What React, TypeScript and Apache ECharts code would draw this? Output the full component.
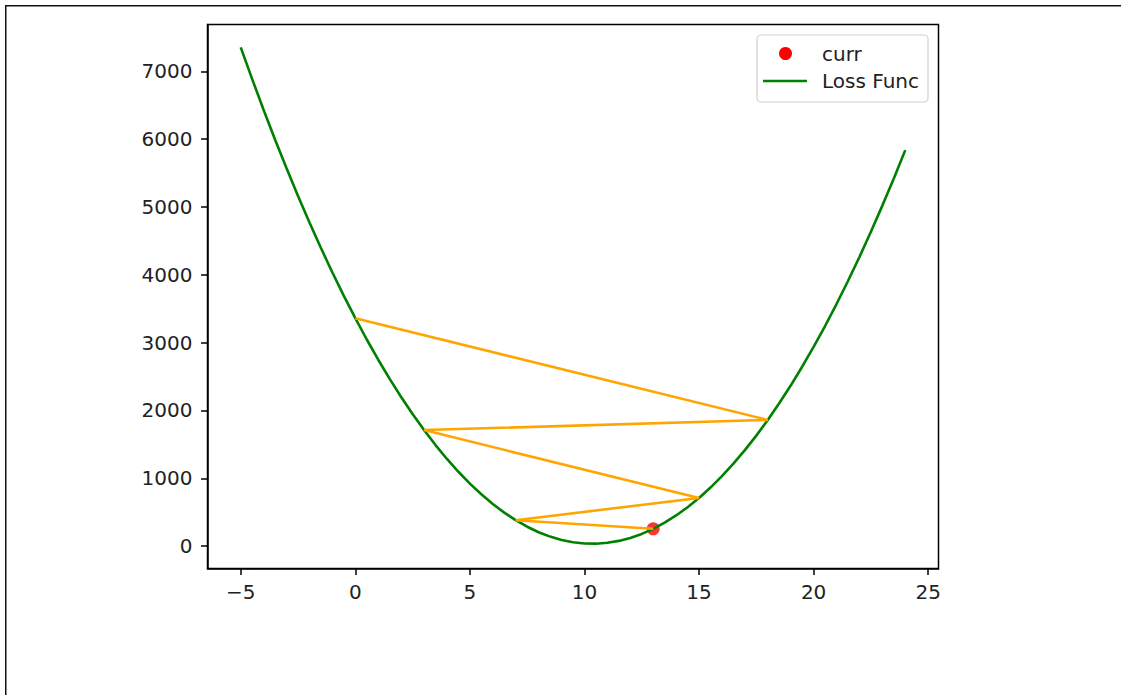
import React, { useEffect, useRef } from "react";
import * as echarts from "echarts";

// Loss function samples, x step 0.5
const lossX = [
  -5, -4.5, -4, -3.5, -3, -2.5, -2, -1.5, -1, -0.5, 0, 0.5, 1, 1.5, 2, 2.5, 3, 3.5, 4, 4.5,
  5, 5.5, 6, 6.5, 7, 7.5, 8, 8.5, 9, 9.5, 10, 10.5, 11, 11.5, 12, 12.5, 13, 13.5, 14, 14.5,
  15, 15.5, 16, 16.5, 17, 17.5, 18, 18.5, 19, 19.5, 20, 20.5, 21, 21.5, 22, 22.5, 23, 23.5, 24,
];
const lossY = [
  7353, 6884, 6430, 5992, 5570, 5162, 4771, 4395, 4034, 3690, 3360, 3046, 2748, 2465, 2198, 1947, 1711, 1490, 1285, 1096,
  922, 764, 621, 494, 382, 286, 205, 140, 91, 57, 39, 36, 49, 77, 121, 180, 255, 346, 452, 573,
  710, 863, 1031, 1215, 1415, 1629, 1860, 2106, 2367, 2645, 2937, 3245, 3569, 3909, 4263, 4634, 5020, 5421, 5838,
];

// Gradient-descent path (orange)
const pathX = [0, 18, 3, 15, 7, 13];
const pathY = [3360, 1860, 1711, 710, 382, 255];

// Current point (red)
const currX = [13];
const currY = [255];

const xTicks = [-5, 0, 5, 10, 15, 20, 25];
const yTicks = [0, 1000, 2000, 3000, 4000, 5000, 6000, 7000];

const FONT = "DejaVu Sans";
const FS = 20;

export default function App() {
  const ref = useRef<HTMLDivElement>(null);
  useEffect(() => {
    if (!ref.current) return;
    const chart = echarts.init(ref.current, undefined, { renderer: "svg" });
    const fmt = (v: number) => (v < 0 ? "\u2212" + Math.abs(v) : String(v));
    chart.setOption({
      animation: false,
      backgroundColor: "#ffffff",
      grid: {
        left: 207.5,
        top: 24.5,
        width: 731,
        height: 544,
        show: true,
        borderColor: "#000",
        borderWidth: 1.5,
        backgroundColor: "transparent",
      },
      xAxis: {
        type: "value",
        min: -6.45,
        max: 25.45,
        splitLine: { show: false },
        axisLine: { show: true, onZero: false, lineStyle: { color: "#000", width: 1.5 } },
        axisTick: { show: true, customValues: xTicks, length: 6.5, lineStyle: { color: "#000", width: 1.5 } },
        axisLabel: {
          customValues: xTicks,
          formatter: fmt,
          margin: 13,
          color: "#222",
          fontFamily: FONT,
          fontSize: FS,
        },
      },
      yAxis: {
        type: "value",
        min: -330,
        max: 7690,
        splitLine: { show: false },
        axisLine: { show: true, onZero: false, lineStyle: { color: "#000", width: 1.5 } },
        axisTick: { show: true, customValues: yTicks, length: 6.5, lineStyle: { color: "#000", width: 1.5 } },
        axisLabel: {
          customValues: yTicks,
          formatter: fmt,
          margin: 15,
          color: "#222",
          fontFamily: FONT,
          fontSize: FS,
        },
      },
      series: [
        {
          name: "Loss Func",
          type: "line",
          data: lossX.map((x, i) => [x, lossY[i]]),
          showSymbol: false,
          symbol: "none",
          lineStyle: { color: "green", width: 2.6 },
          itemStyle: { color: "green" },
        },
        {
          name: "path",
          type: "line",
          data: pathX.map((x, i) => [x, pathY[i]]),
          showSymbol: false,
          symbol: "none",
          lineStyle: { color: "orange", width: 2.6 },
          itemStyle: { color: "orange" },
        },
        {
          name: "curr",
          type: "scatter",
          data: currX.map((x, i) => [x, currY[i]]),
          symbolSize: 13,
          itemStyle: { color: "red" },
        },
      ],
      graphic: [
        {
          type: "rect",
          shape: { x: 5.75, y: 5.75, width: 1300, height: 900 },
          style: { fill: "none", stroke: "#111", lineWidth: 1.5 },
          silent: true,
          z: 0,
        },
        {
          type: "rect",
          shape: { x: 757, y: 35, width: 171, height: 67, r: 4 },
          style: { fill: "rgba(255,255,255,0.8)", stroke: "#d0d0d0", lineWidth: 1.2 },
          z: 10,
        },
        {
          type: "circle",
          shape: { cx: 785.5, cy: 53.5, r: 6.5 },
          style: { fill: "red" },
          z: 11,
        },
        {
          type: "line",
          shape: { x1: 763, y1: 81, x2: 807, y2: 81 },
          style: { stroke: "green", lineWidth: 2.6 },
          z: 11,
        },
        {
          type: "text",
          x: 822,
          y: 53.5,
          style: { text: "curr", fill: "#222", font: `${FS}px "${FONT}"`, verticalAlign: "middle" },
          z: 11,
        },
        {
          type: "text",
          x: 822,
          y: 81,
          style: { text: "Loss Func", fill: "#222", font: `${FS}px "${FONT}"`, verticalAlign: "middle" },
          z: 11,
        },
      ],
    });
    return () => chart.dispose();
  }, []);
  return (
    <div
      ref={ref}
      style={{ position: "absolute", left: 0, top: 0, width: 1121, height: 695 }}
    />
  );
}
